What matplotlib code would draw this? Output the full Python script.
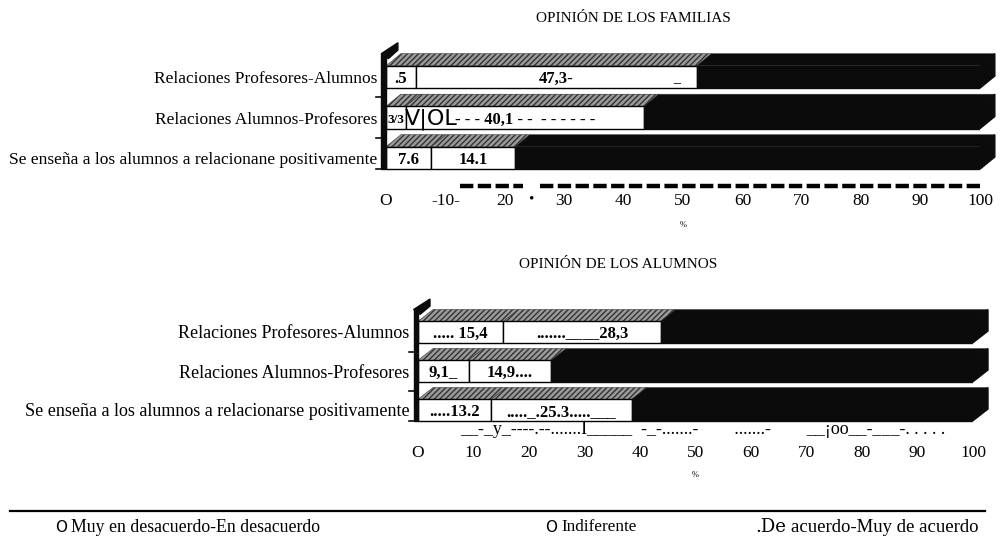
import matplotlib.pyplot as plt
from matplotlib.patches import Polygon
from matplotlib.lines import Line2D

plt.rcParams['font.family'] = ['Liberation Serif', 'DejaVu Serif']

# --- data ---
rows_fam = ['Relaciones Profesores-Alumnos',
            'Relaciones Alumnos-Profesores',
            'Se enseña a los alumnos a relacionane positivamente']
fam_desacuerdo = [5.0, 3.3, 7.6]
fam_indiferente = [47.3, 40.1, 14.1]
fam_acuerdo = [47.7, 56.6, 78.3]
fam_lab1 = ['.5', '3/3', '7.6']
fam_lab2 = ['47,3-', '- - - 40,1 - -  - - - - - -', '14.1']

rows_alu = ['Relaciones Profesores-Alumnos',
            'Relaciones Alumnos-Profesores',
            'Se enseña a los alumnos a relacionarse positivamente']
alu_desacuerdo = [15.4, 9.1, 13.2]
alu_indiferente = [28.3, 14.9, 25.3]
alu_acuerdo = [56.3, 76.0, 61.5]
alu_lab1 = ['..... 15,4', '9,1_', '.....13.2']
alu_lab2 = ['.......____28,3', '14,9....', '....._.25.3.....___']

ticks = [0, 10, 20, 30, 40, 50, 60, 70, 80, 90, 100]
tick_top = ['O', '-10-', '20', '30', '40', '50', '60', '70', '80', '90', '100']
tick_bot = ['O', '10', '20', '30', '40', '50', '60', '70', '80', '90', '100']

DARK = '#0b0b0b'
HATCH = '#9a9a9a'


def draw_chart(ax, rows, d1, d2, d3, lab1, lab2, tick_labels, dx, dy, rowsize, tickpad,
               lab1size=(12, 12, 12)):
    h = 0.55
    y = list(range(len(rows)))
    left2 = [a for a in d1]
    left3 = [a + b for a, b in zip(d1, d2)]
    ax.barh(y, d1, height=h, color='white', edgecolor='black', linewidth=1.0, zorder=3)
    ax.barh(y, d2, left=left2, height=h, color='white', edgecolor='black', linewidth=1.0, zorder=3)
    ax.barh(y, d3, left=left3, height=h, color=DARK, edgecolor=DARK, linewidth=1.0, zorder=3)

    for i in y:
        top = i - h / 2
        segs = [(0, d1[i], HATCH), (left2[i], d2[i], HATCH), (left3[i], d3[i], DARK)]
        for l, w, c in segs:
            p = Polygon([(l, top), (l + dx, top - dy), (l + w + dx, top - dy), (l + w, top)],
                        closed=True, facecolor=c, edgecolor='#333333', linewidth=0.4,
                        hatch='//////' if c == HATCH else None, zorder=2, clip_on=False)
            ax.add_patch(p)
        # right side of the box
        r = left3[i] + d3[i]
        ax.add_patch(Polygon([(r, top), (r + dx, top - dy), (r + dx, top + h - dy), (r, top + h)],
                             closed=True, facecolor=DARK, edgecolor=DARK, zorder=2, clip_on=False))
        ax.text(d1[i] / 2, i + 0.05, lab1[i], ha='center', va='center',
                fontsize=lab1size[i], fontweight='bold', zorder=5)
        ax.text(left2[i] + d2[i] / 2, i + 0.05, lab2[i], ha='center', va='center',
                fontsize=12, fontweight='bold', zorder=5)

    # left wall
    wall_top = -h / 2 - dy
    wall_bot = len(rows) - 1 + h / 2
    ax.add_patch(Polygon([(-0.8, wall_top), (0, wall_top), (0, wall_bot), (-0.8, wall_bot)],
                         closed=True, facecolor=DARK, edgecolor=DARK, zorder=4, clip_on=False))
    ax.add_patch(Polygon([(-0.8, wall_top), (dx * 0.8, wall_top - dy * 0.9),
                          (dx * 0.8, wall_top - dy * 0.3), (0.4, wall_top + 0.12)],
                         closed=True, facecolor=DARK, edgecolor=DARK, zorder=4, clip_on=False))
    for b in [0.5, 1.5, wall_bot]:
        ax.plot([-1.6, -0.8], [b, b], color=DARK, lw=1.2, clip_on=False, zorder=4)

    ax.set_xlim(0, 100)
    ax.set_yticks(y)
    ax.set_yticklabels(rows, fontsize=rowsize)
    ax.set_xticks(ticks)
    ax.set_xticklabels(tick_labels, fontsize=12.5)
    ax.tick_params(length=0)
    ax.tick_params(axis='x', pad=tickpad)
    ax.tick_params(axis='y', pad=6)
    for s in ax.spines.values():
        s.set_visible(False)


fig = plt.figure(figsize=(10, 5.37), dpi=100)

# upper chart: rows at 77/118/158 px
ax1 = fig.add_axes([0.386, 1 - 180.3 / 537, 0.594, 135.7 / 537])
ax1.set_ylim(2.55, -0.8)
draw_chart(ax1, rows_fam, fam_desacuerdo, fam_indiferente, fam_acuerdo,
           fam_lab1, fam_lab2, tick_top, 2.5, 0.3, 12.5, 9, lab1size=(12, 9.5, 12))
# scan artefacts in the upper chart
ax1.text(3.1, 1.05, 'V|OL', family='DejaVu Sans', fontsize=16, ha='left', va='center', zorder=6)
ax1.text(49, 0.05, '_', fontsize=10, ha='center', va='center', zorder=6)
ax1.plot([12.5, 23.1], [2.68, 2.68], ls=(0, (3, 1)), lw=3.2, color='black', clip_on=False)
ax1.plot([25.9, 100], [2.68, 2.68], ls=(0, (3, 1)), lw=3.2, color='black', clip_on=False)
ax1.text(24.4, -0.14, '•', transform=ax1.get_xaxis_transform(), fontsize=11,
         ha='center', va='center')
ax1.text(50, -0.33, '%', transform=ax1.get_xaxis_transform(), fontsize=6,
         ha='center', va='center')

# lower chart: rows at 332/371/410 px
ax2 = fig.add_axes([0.418, 1 - 433.4 / 537, 0.555, 132.6 / 537])
ax2.set_ylim(2.6, -0.8)
draw_chart(ax2, rows_alu, alu_desacuerdo, alu_indiferente, alu_acuerdo,
           alu_lab1, alu_lab2, tick_bot, 2.7, 0.3, 13, 8)
ax2.text(7.6, 2.5, '__-_y_----.--.......I_____  -_-.......-        .......-        __¡oo__-___-. . . . .',
         fontsize=13, ha='left', va='center', clip_on=False)
ax2.text(50, -0.31, '%', transform=ax2.get_xaxis_transform(), fontsize=6,
         ha='center', va='center')

fig.text(0.633, 1 - 18 / 537, 'OPINIÓN DE LOS FAMILIAS', fontsize=11, ha='center', va='center')
fig.text(0.618, 1 - 265 / 537, 'OPINIÓN DE LOS ALUMNOS', fontsize=11, ha='center', va='center')

# legend strip
fig.add_artist(Line2D([0.01, 0.985], [1 - 511 / 537, 1 - 511 / 537], color='black', lw=1.6))
ly = 1 - 527 / 537
fig.text(0.055, ly, 'O', family='DejaVu Sans', fontsize=11, va='center')
fig.text(0.071, ly, 'Muy en desacuerdo-En desacuerdo', fontsize=12.8, va='center')
fig.text(0.545, ly, 'O', family='DejaVu Sans', fontsize=11, va='center')
fig.text(0.561, ly, 'Indiferente', fontsize=12.3, va='center')
fig.text(0.755, ly, '.De', family='DejaVu Serif', fontsize=13, va='center')
fig.text(0.791, ly, 'acuerdo-Muy de acuerdo', fontsize=13.5, va='center')

fig.savefig('out.png', dpi=100)
